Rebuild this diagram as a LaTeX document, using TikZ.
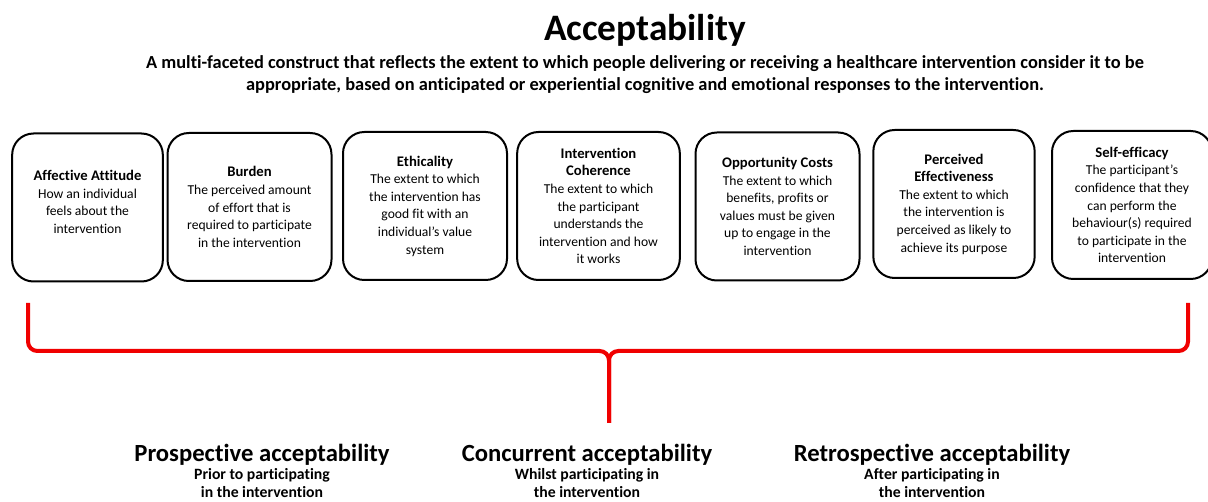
\documentclass[tikz,border=0pt]{standalone}
\usepackage{fontspec}
\setmainfont{Carlito}[Ligatures=NoCommon]
\usetikzlibrary{positioning}
\newcommand{\ctitlefont}{\bfseries\fontsize{11}{13.2}\selectfont}

\begin{document}
\begin{tikzpicture}[x=0.75pt,y=0.75pt,yscale=-1,
  card/.style={draw, line width=1.5pt, rounded corners=16pt, minimum height=111pt, align=center, inner sep=1pt, font=\fontsize{10.2}{13.2}\selectfont},
  head/.style={font=\bfseries\fontsize{18.5}{22}\selectfont, anchor=base},
  sub/.style={font=\bfseries\fontsize{11.8}{12.8}\selectfont, align=center, anchor=north, inner sep=0pt},
  brace/.style={draw={rgb, 255:red, 240; green, 0; blue, 0}, line width=3pt, rounded corners=7pt}]

\useasboundingbox (0,0) rectangle (1208,502);

% Text Node
\node [font=\bfseries\fontsize{28}{32}\selectfont, anchor=base] (ttl) at (645,41) {Acceptability};
% Text Node
\node [font=\bfseries\fontsize{13.8}{16.5}\selectfont, align=center, anchor=north, inner sep=0pt] (def) at (645,55) {A multi-faceted construct that reflects the extent to which people delivering or receiving a healthcare intervention consider it to be\\ appropriate, based on anticipated or experiential cognitive and emotional responses to the intervention.};

%Rounded Rect
\node [card, minimum width=113pt] (aff) at (87.5,207.5) {{\ctitlefont Affective Attitude}\\ How an individual\\ feels about the\\ intervention\\[-5pt]\mbox{}};
%Rounded Rect
\node [card, minimum width=123pt] (bur) at (249.5,207) {{\ctitlefont Burden}\\ The perceived amount\\ of effort that is\\ required to participate\\ in the intervention};
%Rounded Rect
\node [card, minimum width=123pt] (eth) at (425,206) {{\ctitlefont Ethicality}\\ The extent to which\\ the intervention has\\ good fit with an\\ individual’s value\\ system};
%Rounded Rect
\node [card, minimum width=122pt] (coh) at (598.5,206) {{\ctitlefont Intervention}\\ {\ctitlefont Coherence}\\ The extent to which\\ the participant\\ understands the\\ intervention and how\\ it works};
%Rounded Rect
\node [card, minimum width=123pt] (opp) at (777.5,206.5) {{\ctitlefont Opportunity Costs}\\ The extent to which\\ benefits, profits or\\ values must be given\\ up to engage in the\\ intervention};
%Rounded Rect
\node [card, minimum width=121pt] (eff) at (954,204) {{\ctitlefont Perceived}\\ {\ctitlefont Effectiveness}\\ The extent to which\\ the intervention is\\ perceived as likely to\\ achieve its purpose};
%Rounded Rect
\node [card, minimum width=120pt] (slf) at (1132,205) {{\ctitlefont Self-efficacy}\\ The participant’s\\ confidence that they\\ can perform the\\ behaviour(s) required\\ to participate in the\\ intervention};

%Brace
\coordinate (bl) at (28,303);
\coordinate (br) at (1188,303);
\coordinate (mid) at (609,351);
\coordinate (tip) at (609,423);
\draw [brace] (bl) -- (28,351) -- (mid) -- (tip);
\draw [brace] (br) -- (1188,351) -- (mid) -- (tip);

% Text Node
\node [head] (pro) at (262,462) {Prospective acceptability};
\node [sub, below=5pt of pro.base] (prot) {Prior to participating\\ in the intervention};
% Text Node
\node [head] (con) at (587,462) {Concurrent acceptability};
\node [sub, below=5pt of con.base] (cont) {Whilst participating in\\ the intervention};
% Text Node
\node [head] (ret) at (932,462) {Retrospective acceptability};
\node [sub, below=5pt of ret.base] (rett) {After participating in\\ the intervention};

\end{tikzpicture}
\end{document}
